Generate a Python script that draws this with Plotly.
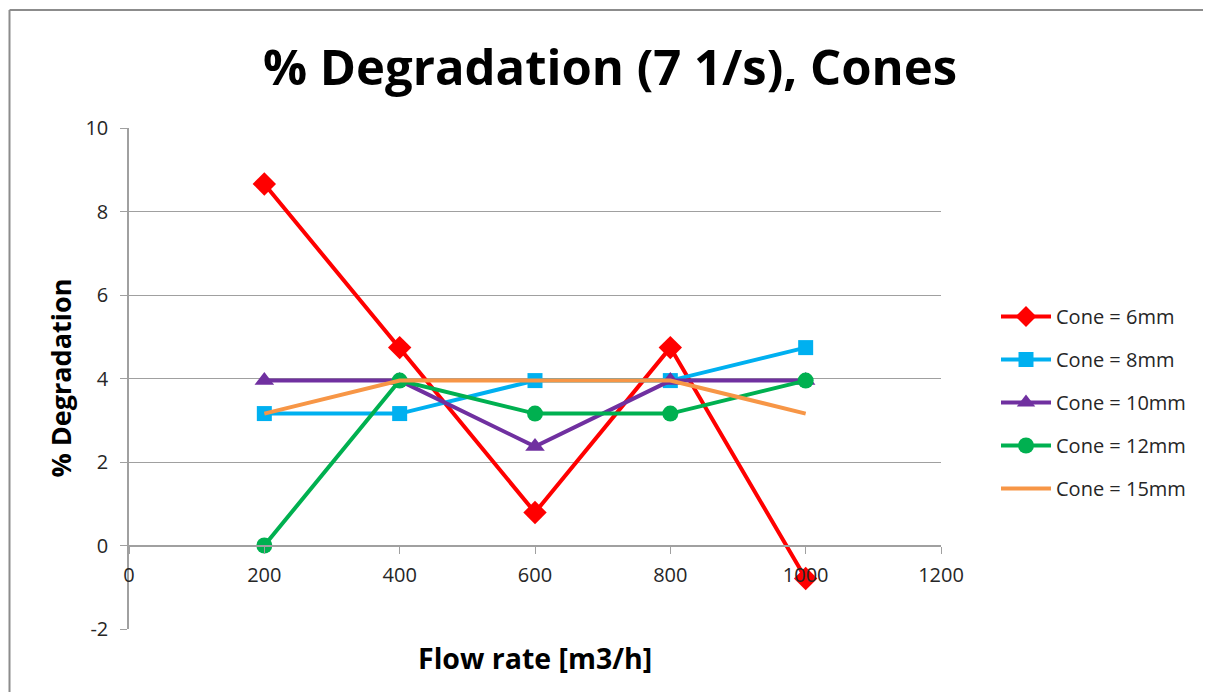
import plotly.graph_objects as go

flow = [200, 400, 600, 800, 1000]
cone_6mm = [8.66, 4.74, 0.79, 4.74, -0.79]
cone_8mm = [3.16, 3.16, 3.95, 3.95, 4.74]
cone_10mm = [3.95, 3.95, 2.37, 3.95, 3.95]
cone_12mm = [0.0, 3.95, 3.16, 3.16, 3.95]
cone_15mm = [3.16, 3.95, 3.95, 3.95, 3.16]

series = [
    ("Cone = 6mm", cone_6mm, "#FF0000", "diamond", 18),
    ("Cone = 8mm", cone_8mm, "#00B0F0", "square", 15),
    ("Cone = 10mm", cone_10mm, "#7030A0", "triangle-up", 17),
    ("Cone = 12mm", cone_12mm, "#00B050", "circle", 16),
    ("Cone = 15mm", cone_15mm, "#F79646", None, 0),
]

OFF = 8  # page body margin
W, H = 1211 - 2 * OFF, 700 - 2 * OFF
# plot area in page pixels
L, R, T, B = 129, 941, 128, 629

fig = go.Figure()
for i, (name, vals, col, sym, sz) in enumerate(series):
    if sym:
        fig.add_trace(go.Scatter(x=flow, y=vals, name=name, mode="lines+markers",
                                 line=dict(color=col, width=4),
                                 marker=dict(symbol=sym, size=sz, color=col),
                                 legendgroup=str(i)))
    else:
        fig.add_trace(go.Scatter(x=flow, y=vals, name=name, mode="lines",
                                 line=dict(color=col, width=4),
                                 legendgroup=str(i)))

pw = R - L
ph = B - T
def px_x(p):
    return (p - L) / pw
def px_y(p):
    return (B - p) / ph

zero_pos = (629 - 546) / ph

fig.update_layout(
    width=W, height=H,
    margin=dict(l=L - OFF, r=(W + OFF) - R, t=T - OFF, b=(H + OFF) - B, pad=0),
    paper_bgcolor="white", plot_bgcolor="white",
    font=dict(family="Open Sans, Lato, sans-serif", color="#262626", size=20),
    title=dict(text="<b>% Degradation (7 1/s), Cones</b>",
               font=dict(family="Open Sans", size=49, color="black"),
               x=(610 - OFF) / W, xanchor="center", y=1 - (68 - OFF) / H, yanchor="middle"),
    xaxis=dict(range=[0, 1200], tickvals=[0, 200, 400, 600, 800, 1000, 1200],
               showgrid=False, zeroline=False, showline=True, linecolor="#A0A0A0",
               linewidth=1.5, ticks="outside", ticklen=7, tickcolor="#A0A0A0",
               anchor="free", position=zero_pos, ticklabelstandoff=4,
               tickfont=dict(size=20, color="#262626")),
    yaxis=dict(range=[-2, 10], tickvals=[-2, 0, 2, 4, 6, 8, 10],
               ticktext=["-2", "0", "2", "4", "6", "8", "10"],
               showgrid=True, gridcolor="#A0A0A0", gridwidth=1.2,
               zeroline=False, showline=True, linecolor="#A0A0A0", linewidth=1.5,
               ticks="outside", ticklen=7, tickcolor="#A0A0A0", ticklabelstandoff=8,
               tickfont=dict(size=20, color="#262626")),
    legend=dict(x=px_x(996), y=px_y(297), xanchor="left", yanchor="top",
                font=dict(size=20, color="#262626"), tracegroupgap=14,
                itemwidth=50, bgcolor="rgba(0,0,0,0)"),
    showlegend=True,
)

fig.add_annotation(text="<b>Flow rate [m3/h]</b>", xref="paper", yref="paper",
                   x=0.5, y=px_y(658), xanchor="center", yanchor="middle",
                   showarrow=False, font=dict(size=28.5, color="black"))
fig.add_annotation(text="<b>% Degradation</b>", xref="paper", yref="paper",
                   x=px_x(60), y=0.5, xanchor="center", yanchor="middle",
                   textangle=-90, showarrow=False, font=dict(size=27, color="black"))

# chart-area border (top and left edges visible in the reference)
fig.add_shape(type="line", xref="paper", yref="paper",
              x0=px_x(9.5), x1=px_x(1211), y0=px_y(10), y1=px_y(10),
              line=dict(color="#8C8C8C", width=2), layer="below")
fig.add_shape(type="line", xref="paper", yref="paper",
              x0=px_x(9.5), x1=px_x(9.5), y0=px_y(10), y1=px_y(700),
              line=dict(color="#8C8C8C", width=2), layer="below")

fig.write_html("out.html")
